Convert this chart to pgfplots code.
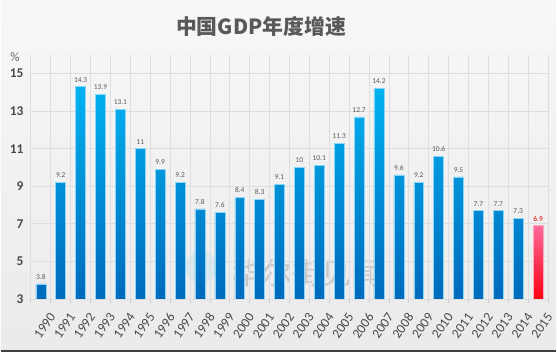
\documentclass[border=0pt]{standalone}
\usepackage{pgfplots}
\usepackage{pgfplotstable}
\pgfplotsset{compat=1.18}
\usepackage{fontspec}
\setmainfont{Carlito}
\newfontfamily\cjk{Noto Sans CJK SC}
\definecolor{bartop}{HTML}{00B2F0}
\definecolor{barmid}{HTML}{0098DE}
\definecolor{barbot}{HTML}{006ABC}
\definecolor{barline}{HTML}{8AD6F6}
\definecolor{redtop}{HTML}{FF6A9A}
\definecolor{redbot}{HTML}{FF0010}
\definecolor{txt}{HTML}{4A4A4A}
\pgfplotstableread{
x year v
0 1990 3.8
1 1991 9.2
2 1992 14.3
3 1993 13.9
4 1994 13.1
5 1995 11
6 1996 9.9
7 1997 9.2
8 1998 7.8
9 1999 7.6
10 2000 8.4
11 2001 8.3
12 2002 9.1
13 2003 10
14 2004 10.1
15 2005 11.3
16 2006 12.7
17 2007 14.2
18 2008 9.6
19 2009 9.2
20 2010 10.6
21 2011 9.5
22 2012 7.7
23 2013 7.7
24 2014 7.3
}\gdpdata
\pgfplotstableread{
x year v
25 2015 6.9
}\gdplast
\begin{document}
\begin{tikzpicture}
\shade[top color=black!3, bottom color=black!8] (-30bp,-53bp) rectangle (527bp,300bp);
\draw[black!75, line width=2bp] (-30bp,-52bp) -- (527bp,-52bp);
\node[font=\cjk\bfseries\fontsize{21}{23}\selectfont, text=black!65] at (231bp,273bp) {中国GDP年度增速};
\node[font=\fontsize{13}{14}\selectfont, text=black!60] at (-16bp,243bp) {\%};
% watermark (behind the bars)
\fill[cyan!45, opacity=0.22] (171bp,32bp) circle (16bp);
\node[font=\cjk\fontsize{30}{32}\selectfont, text=black!22] at (277bp,26bp) {华尔街见闻};
\begin{axis}[
  anchor=south west,
  scale only axis, width=519bp, height=245bp,
  xmin=-0.5, xmax=25.5, ymin=0, ymax=13,
  ytick={0,2,...,12}, yticklabels={3,5,7,9,11,13,15},
  xtick={0,...,25},
  xticklabels={1990,1991,1992,1993,1994,1995,1996,1997,1998,1999,2000,2001,2002,2003,2004,2005,2006,2007,2008,2009,2010,2011,2012,2013,2014,2015},
  minor xtick={-0.5,0.5,...,25.5},
  xminorgrids, ymajorgrids,
  grid style={draw=black!13, line width=0.8bp},
  minor grid style={draw=black!13, line width=0.8bp},
  axis line style={draw=none},
  xtick pos=bottom, ytick pos=left,
  tick align=outside,
  major tick length=0pt,
  minor tick length=4bp,
  minor tick style={draw=black!18, line width=0.8bp},
  xticklabel style={xshift=8bp, yshift=-13bp, rotate=55, anchor=north east, font=\fontsize{13.5}{13.5}\selectfont, text=txt, inner sep=0bp},
  yticklabel style={font=\bfseries\fontsize{13.5}{14}\selectfont, text=txt, xshift=-4bp},
  /pgf/number format/assume math mode=true,
  ybar, bar width=10bp, bar shift=0pt,
  nodes near coords,
  point meta=explicit,
  nodes near coords style={font=\fontsize{7.5}{8}\selectfont, text=black!65, yshift=1bp},
]
\addplot[draw=barline, line width=0.5bp, top color=bartop, middle color=barmid, bottom color=barbot]
  table[x=x, y expr=\thisrow{v}-3, meta=v] {\gdpdata};
\addplot[draw=redtop!60!white, line width=0.5bp, top color=redtop, bottom color=redbot,
  nodes near coords style={text=red!90!black}]
  table[x=x, y expr=\thisrow{v}-3, meta=v] {\gdplast};
\end{axis}
\end{tikzpicture}
\end{document}
